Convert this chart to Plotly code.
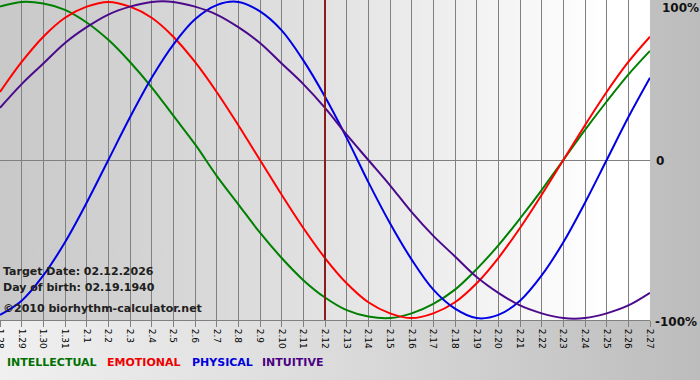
import base64
import plotly.graph_objects as go

# ---- data ----
dates = ["1.28", "1.29", "1.30", "1.31", "2.1", "2.2", "2.3", "2.4", "2.5", "2.6",
         "2.7", "2.8", "2.9", "2.10", "2.11", "2.12", "2.13", "2.14", "2.15", "2.16",
         "2.17", "2.18", "2.19", "2.20", "2.21", "2.22", "2.23", "2.24", "2.25", "2.26",
         "2.27"]

intellectual = [0.97, 1.00, 0.99, 0.95, 0.87, 0.76, 0.62, 0.46, 0.28, 0.10,
                -0.10, -0.28, -0.46, -0.62, -0.76, -0.87, -0.95, -0.99, -1.00, -0.97,
                -0.91, -0.82, -0.69, -0.54, -0.37, -0.19, 0.00, 0.19, 0.37, 0.54,
                0.69]
emotional = [0.43, 0.62, 0.78, 0.90, 0.97, 1.00, 0.97, 0.90, 0.78, 0.62,
             0.43, 0.22, 0.00, -0.22, -0.43, -0.62, -0.78, -0.90, -0.97, -1.00,
             -0.97, -0.90, -0.78, -0.62, -0.43, -0.22, 0.00, 0.22, 0.43, 0.62,
             0.78]
physical = [-0.98, -0.89, -0.73, -0.52, -0.27, 0.00, 0.27, 0.52, 0.73, 0.89,
            0.98, 1.00, 0.94, 0.82, 0.63, 0.40, 0.14, -0.14, -0.40, -0.63,
            -0.82, -0.94, -1.00, -0.98, -0.89, -0.73, -0.52, -0.27, 0.00, 0.27,
            0.52]
intuitive = [0.33, 0.48, 0.61, 0.74, 0.84, 0.92, 0.97, 1.00, 1.00, 0.97,
             0.92, 0.84, 0.74, 0.61, 0.48, 0.33, 0.16, 0.00, -0.16, -0.33,
             -0.48, -0.61, -0.74, -0.84, -0.92, -0.97, -1.00, -1.00, -0.97, -0.92,
             -0.84]

target_date = "2.12"
series_names = ["INTELLECTUAL", "EMOTIONAL", "PHYSICAL", "INTUITIVE"]
line_colors = ["#008000", "#ff0000", "#0000e6", "#4b0a8c"]
label_colors = ["#007000", "#ee0000", "#0000dd", "#4b0082"]
info_lines = ["Target Date: 02.12.2026", "Day of birth: 02.19.1940",
              "\u00a92010 biorhythm-calculator.net"]
y_labels = ["100%", "0", "-100%"]

W, H = 700, 380
ML, MR, MT, MB = 0, 50, 0, 60
PW, PH = W - ML - MR, H - MT - MB


def grad_uri(w, h, stops):
    st = "".join(f'<stop offset="{o}" stop-color="{c}"/>' for o, c in stops)
    svg = (f'<svg xmlns="http://www.w3.org/2000/svg" width="{w}" height="{h}" '
           f'viewBox="0 0 {w} {h}" preserveAspectRatio="none">'
           f'<defs><linearGradient id="g" x1="0" y1="0" x2="1" y2="0">{st}'
           f'</linearGradient></defs><rect width="{w}" height="{h}" fill="url(#g)"/></svg>')
    return "data:image/svg+xml;base64," + base64.b64encode(svg.encode()).decode()


fig = go.Figure()
for name, vals, col in zip(series_names, [intellectual, emotional, physical, intuitive], line_colors):
    fig.add_trace(go.Scatter(x=dates, y=vals, mode="lines", name=name,
                             line=dict(color=col, width=2, shape="spline", smoothing=1.0),
                             showlegend=False, hoverinfo="skip"))

target_idx = dates.index(target_date)
fig.add_shape(type="line", xref="x", yref="paper", x0=target_idx, x1=target_idx,
              y0=0, y1=1, line=dict(color="#8b1c1c", width=2), layer="above")

images = [
    dict(source=grad_uri(W, H, [(0, "#f0f0f0"), (0.5, "#dadada"), (1, "#bcbcbc")]),
         xref="paper", yref="paper", x=-ML / PW, y=1 + MT / PH,
         sizex=W / PW, sizey=H / PH, xanchor="left", yanchor="top",
         sizing="stretch", layer="below"),
    dict(source=grad_uri(PW, PH, [(0, "#c8c8c8"), (0.5, "#e2e2e2"), (0.93, "#ffffff"), (1, "#ffffff")]),
         xref="paper", yref="paper", x=0, y=1, sizex=1, sizey=1,
         xanchor="left", yanchor="top", sizing="stretch", layer="below"),
]

annotations = []
info_y = [271, 287, 308]
for txt, yy in zip(info_lines, info_y):
    annotations.append(dict(text=f"<b>{txt}</b>", xref="paper", yref="paper",
                            x=1 / PW, y=1 - (yy - MT) / PH, xanchor="left", yanchor="middle",
                            showarrow=False,
                            font=dict(family="DejaVu Sans", size=11, color="#202020")))

legend_x = [5, 105, 190, 260]
for txt, xx, col in zip(series_names, legend_x, label_colors):
    annotations.append(dict(text=f"<b>{txt}</b>", xref="paper", yref="paper",
                            x=xx / PW, y=1 - (362 - MT) / PH, xanchor="left", yanchor="middle",
                            showarrow=False,
                            font=dict(family="DejaVu Sans", size=11, color=col)))

ylab_pos = [(660, 8), (654, 161), (653, 322)]
for txt, (xx, yy) in zip(y_labels, ylab_pos):
    annotations.append(dict(text=f"<b>{txt}</b>", xref="paper", yref="paper",
                            x=xx / PW, y=1 - (yy - MT) / PH, xanchor="left", yanchor="middle",
                            showarrow=False,
                            font=dict(family="DejaVu Sans", size=12, color="#111111")))

fig.update_layout(
    width=W, height=H,
    margin=dict(l=ML, r=MR, t=MT, b=MB, pad=0, autoexpand=False),
    paper_bgcolor="rgba(0,0,0,0)", plot_bgcolor="rgba(0,0,0,0)",
    images=images, annotations=annotations,
    xaxis=dict(type="category", range=[0, len(dates) - 1], showgrid=True,
               gridcolor="#808080", gridwidth=1, ticks="outside", ticklen=6,
               tickcolor="#808080", tickangle=90, showline=True, linecolor="#808080",
               linewidth=1, mirror=False, zeroline=False, automargin=False,
               tickfont=dict(family="DejaVu Sans", size=9, color="#000000"),
               fixedrange=True),
    yaxis=dict(range=[-1.012, 1.012], showgrid=False, zeroline=True,
               zerolinecolor="#808080", zerolinewidth=1, showticklabels=False,
               ticks="", showline=False, fixedrange=True, automargin=False),
)

fig.write_html("out.html", config={"displayModeBar": False, "staticPlot": True},
               post_script="document.body.style.margin='0';document.body.style.overflow='hidden';")
